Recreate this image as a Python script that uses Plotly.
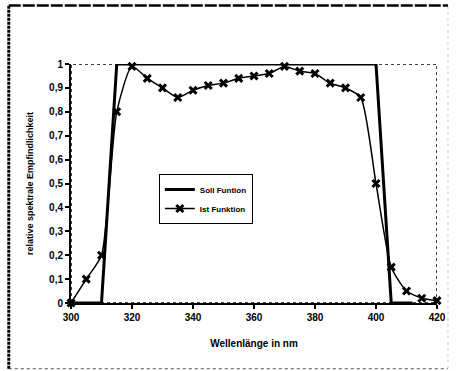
import plotly.graph_objects as go

wl_ist = [300, 305, 310, 315, 320, 325, 330, 335, 340, 345, 350, 355, 360,
          365, 370, 375, 380, 385, 390, 395, 400, 405, 410, 415, 420]
ist = [0.0, 0.10, 0.20, 0.80, 0.99, 0.94, 0.90, 0.86, 0.89, 0.91, 0.92, 0.94,
       0.95, 0.96, 0.99, 0.97, 0.96, 0.92, 0.90, 0.86, 0.50, 0.15, 0.05, 0.02, 0.01]

wl_soll = [300, 310, 315, 400, 405, 412]
soll = [0.0, 0.0, 1.0, 1.0, 0.0, 0.0]

x_ticks = [300, 320, 340, 360, 380, 400, 420]
y_ticks = [0, 0.1, 0.2, 0.3, 0.4, 0.5, 0.6, 0.7, 0.8, 0.9, 1]

fam = "Liberation Sans, Arial"

fig = go.Figure()
fig.add_trace(go.Scatter(x=wl_soll, y=soll, mode="lines", name="<b>Soll Funtion</b>",
                         line=dict(color="black", width=3), cliponaxis=False))
fig.add_trace(go.Scatter(x=wl_ist, y=ist, mode="lines+markers", name="<b>Ist Funktion</b>",
                         line=dict(color="black", width=1.5, shape="spline", smoothing=0.6),
                         marker=dict(symbol="x-thin", size=7, color="black",
                                     line=dict(color="black", width=3)),
                         cliponaxis=False))

# dotted plot-area border (top/right)
fig.add_shape(type="rect", xref="x", yref="y", x0=300, x1=420, y0=0, y1=1,
              line=dict(color="black", width=1.5, dash="dot"), layer="below")
# outer frame
fig.add_shape(type="line", xref="paper", yref="paper", x0=-0.17, x1=1.03, y0=-0.275, y1=-0.275,
              line=dict(color="#555", width=1, dash="dot"))
fig.add_shape(type="line", xref="paper", yref="paper", x0=1.03, x1=1.03, y0=-0.275, y1=1.245,
              line=dict(color="#ccc", width=1, dash="dot"))
fig.add_shape(type="line", xref="paper", yref="paper", x0=-0.17, x1=-0.17, y0=-0.275, y1=1.245,
              line=dict(color="black", width=3, dash="3px,1px"))
fig.add_shape(type="line", xref="paper", yref="paper", x0=-0.17, x1=1.03, y0=1.245, y1=1.245,
              line=dict(color="black", width=2.5, dash="12px,2px"))

fig.update_layout(
    width=458, height=371,
    margin=dict(l=71, r=13, t=64, b=68),
    paper_bgcolor="white", plot_bgcolor="white",
    separators=",.",
    showlegend=True,
    legend=dict(x=0.24, y=0.54, xanchor="left", yanchor="top",
                bgcolor="white", bordercolor="black", borderwidth=1,
                font=dict(family=fam, size=8, color="black"),
                tracegroupgap=0, itemwidth=30),
)
fig.update_xaxes(range=[300, 420], tickvals=x_ticks, ticktext=[str(v) for v in x_ticks],
                 showgrid=False, zeroline=False, showline=True, linecolor="black", linewidth=2,
                 ticks="outside", ticklen=4, tickwidth=2, tickcolor="black",
                 tickfont=dict(family=fam, size=10, color="black", weight="bold"),
                 title=dict(text="<b>Wellenlänge in nm</b>", standoff=18,
                            font=dict(family=fam, size=10, color="black")))
fig.update_yaxes(range=[0, 1], tickvals=y_ticks, tickformat=".1~f",
                 showgrid=False, zeroline=False, showline=True, linecolor="black", linewidth=2,
                 ticks="outside", ticklen=4, tickwidth=2, tickcolor="black",
                 tickfont=dict(family=fam, size=10, color="black", weight="bold"),
                 title=dict(text="<b>relative spektrale Empfindlichkeit</b>", standoff=14,
                            font=dict(family=fam, size=9, color="black")))

fig.write_html("out.html")
